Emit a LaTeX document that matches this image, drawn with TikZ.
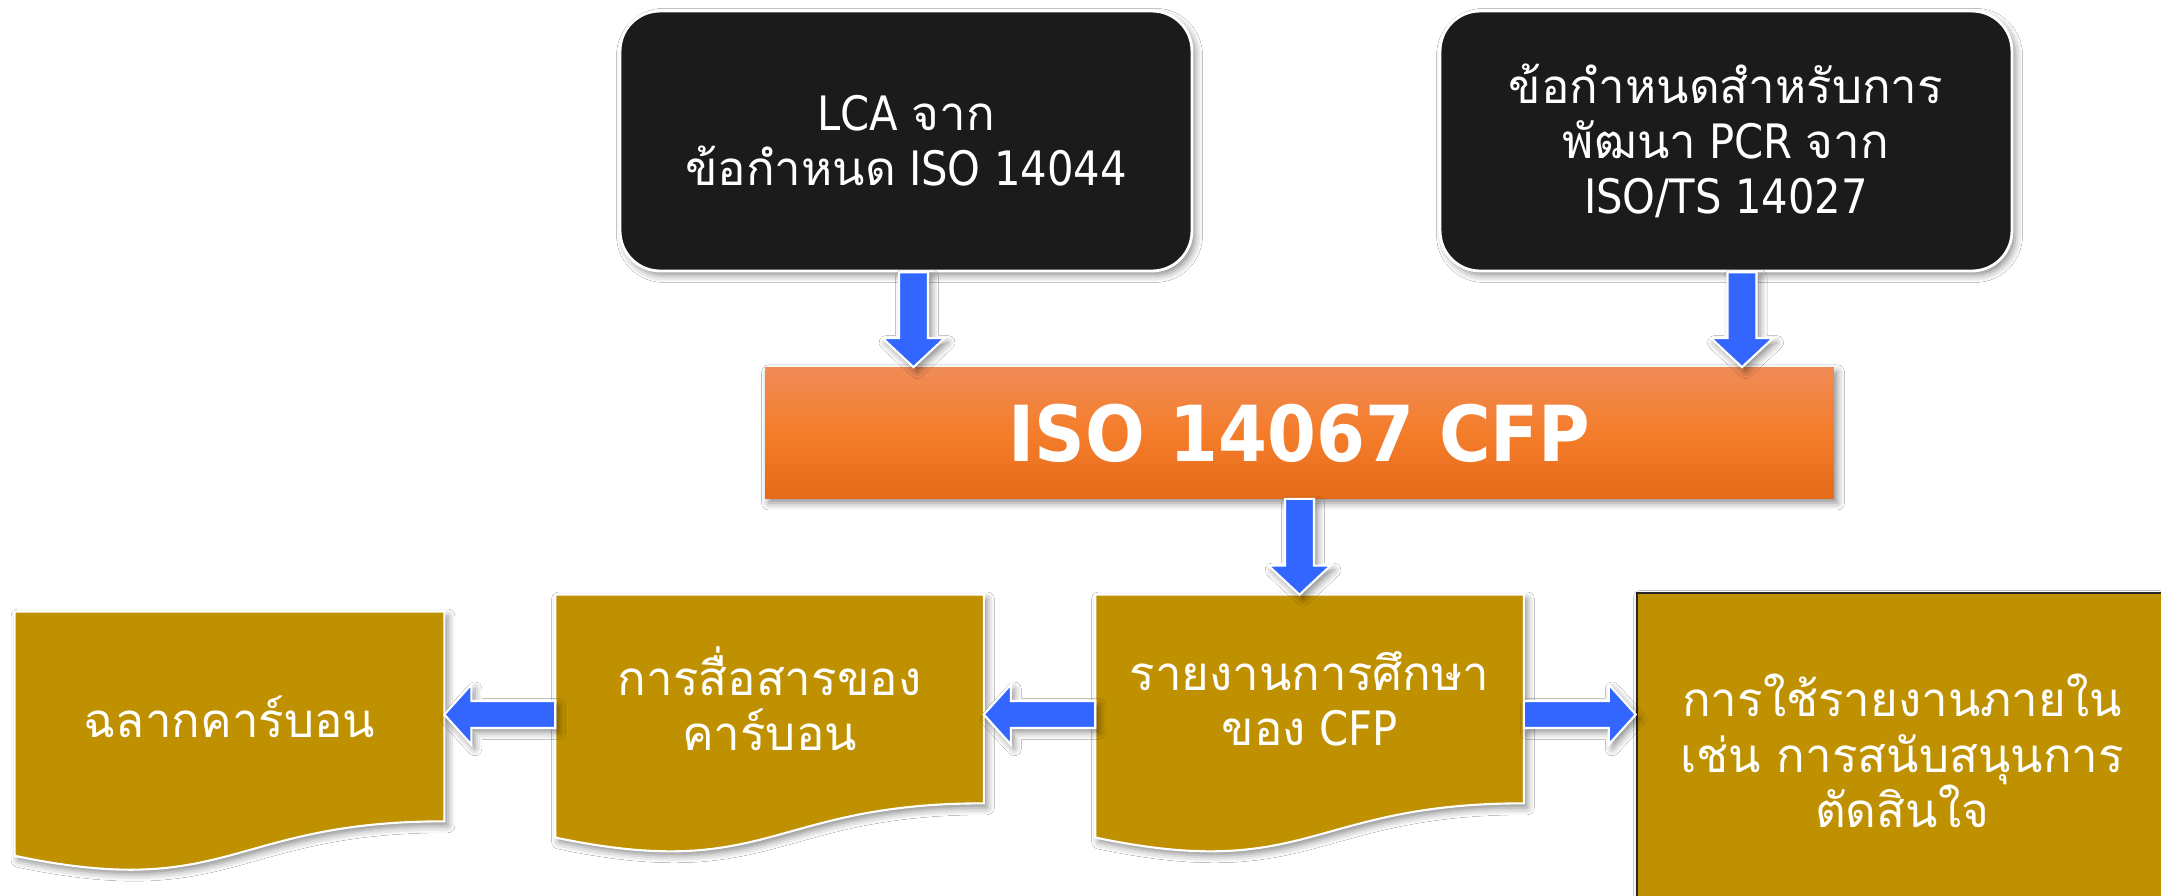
\documentclass[tikz,border=0pt]{standalone}
\usepackage{fontspec}
\setmainfont[FakeStretch=0.88]{DejaVu Sans}
\newfontfamily\thf[Script=Thai]{Loma}
\newfontfamily\titlef[FakeStretch=0.91]{DejaVu Sans}
\usetikzlibrary{calc,shadows.blur}
\definecolor{boxblack}{HTML}{1B1B1B}
\definecolor{gold}{HTML}{BF9000}
\definecolor{abl}{HTML}{3366FF}
\definecolor{orTop}{HTML}{F08B57}
\definecolor{orMid}{HTML}{F47D2A}
\definecolor{orBot}{HTML}{E56A1A}
\tikzset{
  shd/.style={blur shadow={shadow xshift=2pt, shadow yshift=-2.5pt, shadow blur radius=4pt, shadow opacity=45}},
  txt/.style={text=white, font=\fontsize{27}{31.5}\selectfont, align=center},
  blackbox/.style={shd, rectangle, rounded corners=0.8cm, fill=boxblack, draw=white, line width=1.6pt, minimum width=11.44cm, minimum height=5.2cm, txt},
  titlebar/.style={shd, rectangle, top color=orTop, bottom color=orBot, middle color=orMid, minimum width=21.38cm, minimum height=2.62cm, text=white, font=\titlef\bfseries\fontsize{44}{50}\selectfont},
  docnode/.style={rectangle, inner sep=0pt, minimum width=8.56cm, minimum height=4.16cm},
  docshape/.style={shd, fill=gold, draw=white, line width=1.2pt},
  goldbox/.style={shd, rectangle, fill=gold, draw=black!85, line width=1.5pt, minimum width=10.6cm, minimum height=6.32cm, txt},
  barrow/.style={fill=abl, draw=white, line width=1.2pt, line join=miter, shd}
}
\newcommand{\docpath}[2]{%
  \path[docshape] (#1.north west) -- (#1.north east) -- (#1.south east)
    .. controls (#1.south) and ($(#1.south)+(0,#2*0.3055)$) .. ($(#1.south west)+(0,#2*0.132)$) -- cycle;}
% down arrow: #1 start, #2 tip
\newcommand{\blkdown}[2]{%
  \draw[barrow] ($(#1)+(-14.5,0)$) -- ($(#2)+(-14.5,-29)$) -- ($(#2)+(-31,-29)$) -- (#2)
    -- ($(#2)+(31,-29)$) -- ($(#2)+(14.5,-29)$) -- ($(#1)+(14.5,0)$) -- cycle;}
% horizontal arrow: #1 start, #2 tip, #3 = +1 (right) or -1 (left)
\newcommand{\blkh}[3]{%
  \draw[barrow] ($(#1)+(0,-13.5)$) -- ($(#2)+(-27*#3,-13.5)$) -- ($(#2)+(-27*#3,-30)$) -- (#2)
    -- ($(#2)+(-27*#3,30)$) -- ($(#2)+(-27*#3,13.5)$) -- ($(#1)+(0,13.5)$) -- cycle;}
\begin{document}
\begin{tikzpicture}[x=0.02cm,y=-0.02cm]
\useasboundingbox (0,0) rectangle (2161,896);
\fill[white] (0,0) rectangle (2161,896);
\clip (0,0) rectangle (2161,896);

\node[blackbox] (box1) at (906,141) {LCA {\thf จาก}\\{\thf ข้อกำหนด} ISO 14044};
\node[blackbox] (box2) at (1726,141) {{\thf ข้อกำหนดสำหรับการ}\\{\thf พัฒนา} PCR {\thf จาก}\\ISO/TS 14027};
\node[titlebar] (cfp) at (1299.5,433) {ISO 14067 CFP};

\node[docnode, minimum width=8.58cm, minimum height=4.18cm] (doc1) at (229.5,716.5) {};
\node[docnode] (doc2) at (769.5,699) {};
\node[docnode] (doc3) at (1309.5,699) {};
\docpath{doc1}{261}
\docpath{doc2}{259}
\docpath{doc3}{259}
\node[txt] (doc1t) at (doc1.center) {{\thf ฉลากคาร์บอน}};
\node[txt] (doc2t) at (doc2.center) {{\thf การสื่อสารของ}\\{\thf คาร์บอน}};
\node[txt] (doc3t) at (doc3.center) {{\thf รายงานการศึกษา}\\{\thf ของ} CFP};
\node[goldbox] (box4) at (1902,751) {{\thf การใช้รายงานภายใน}\\{\thf เช่น การสนับสนุนการ}\\{\thf ตัดสินใจ}};

\coordinate (a1s) at ($(box1.south)+(7.5,0)$);
\coordinate (a1e) at (a1s |- cfp.north);
\coordinate (a2s) at ($(box2.south)+(16,0)$);
\coordinate (a2e) at (a2s |- cfp.north);
\coordinate (a3s) at (cfp.south);
\coordinate (a3e) at (a3s |- doc3.north);
\blkdown{a1s}{a1e}
\blkdown{a2s}{a2e}
\blkdown{a3s}{a3e}

\coordinate (h1s) at ($(doc2.west)+(0,15.5)$);
\coordinate (h1e) at (h1s -| doc1.east);
\coordinate (h2s) at ($(doc3.west)+(0,15.5)$);
\coordinate (h2e) at (h2s -| doc2.east);
\coordinate (h3s) at ($(doc3.east)+(0,15.5)$);
\coordinate (h3e) at (h3s -| box4.west);
\blkh{h1s}{h1e}{-1}
\blkh{h2s}{h2e}{-1}
\blkh{h3s}{h3e}{1}
\end{tikzpicture}
\end{document}
